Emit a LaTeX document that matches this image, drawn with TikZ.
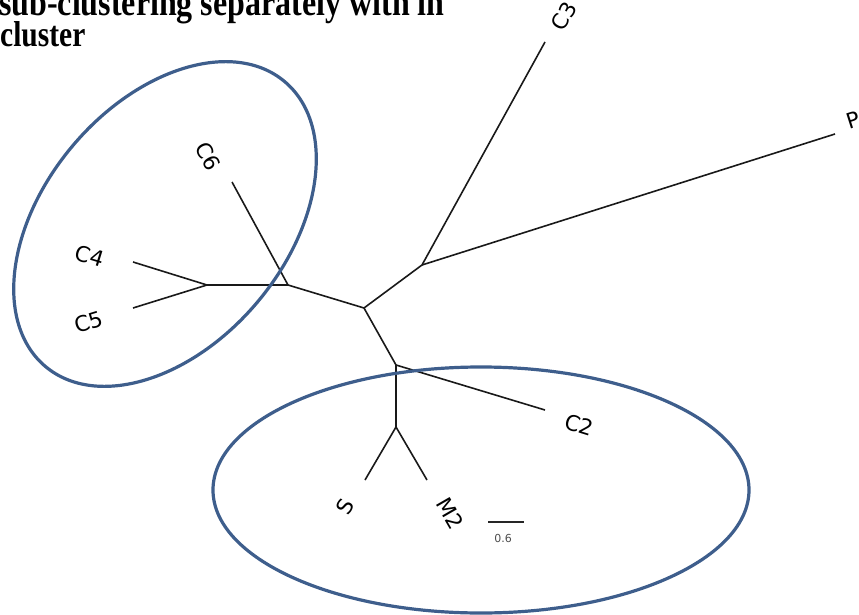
\documentclass[tikz,border=0pt]{standalone}
\usepackage{fontspec}
\setmainfont{Liberation Serif}
\newfontfamily\lblfont{DejaVu Sans}
\definecolor{clusterblue}{RGB}{62,94,140}
\begin{document}
\begin{tikzpicture}[x=1pt,y=-1pt,
  branch/.style={line width=1.6pt, draw=black!90},
  cluster/.style={line width=3.2pt, draw=clusterblue},
  leaf/.style={font=\lblfont\fontsize{21.5}{24}\selectfont, inner sep=0pt},
  titletext/.style={font=\bfseries, inner sep=0pt, anchor=base west}]
\useasboundingbox (0,0) rectangle (859,615);
% tree coordinates
\coordinate (A) at (364,308);
\coordinate (B) at (422,265);
\coordinate (C3t) at (545,42);
\coordinate (Pt) at (835,134);
\coordinate (D) at (288,285);
\coordinate (C6t) at (232,182);
\coordinate (E) at (207,285);
\coordinate (C4t) at (133,262);
\coordinate (C5t) at (133,308);
\coordinate (F) at (396,365);
\coordinate (C2t) at (545,410);
\coordinate (G) at (396,427);
\coordinate (St) at (365,480);
\coordinate (M2t) at (427,480);
\draw[branch] (A) -- (B);
\draw[branch] (B) -- (C3t);
\draw[branch] (B) -- (Pt);
\draw[branch] (A) -- (D);
\draw[branch] (D) -- (C6t);
\draw[branch] (D) -- (E);
\draw[branch] (E) -- (C4t);
\draw[branch] (E) -- (C5t);
\draw[branch] (A) -- (F);
\draw[branch] (F) -- (C2t);
\draw[branch] (F) -- (G);
\draw[branch] (G) -- (St);
\draw[branch] (G) -- (M2t);
% labels
\node[leaf, rotate=61] (C3) at (564,16) {C3};
\node[leaf, rotate=17.7, anchor=west] (P) at (847,122) {P};
\node[leaf, rotate=-62] (C6) at (208,156) {C6};
\node[leaf, rotate=-17] (C4) at (90,256) {C4};
\node[leaf, rotate=17] (C5) at (89,322) {C5};
\node[leaf, rotate=-17] (C2) at (579,425) {C2};
\node[leaf, rotate=60] (S) at (345,507) {S};
\node[leaf, rotate=-60] (M2) at (450,513) {M2};
% scale bar
\coordinate (sb1) at (488,522);
\coordinate (sb2) at (524,522);
\draw[line width=1.4pt, draw=black!85] (sb1) -- (sb2);
\node[font=\lblfont\fontsize{11}{12}\selectfont, text=black!70, inner sep=0pt] (scale) at (503,538) {0.6};
% cluster ellipses
\draw[cluster, rotate around={50:(165,224)}] (165,224) ellipse [x radius=186, y radius=121];
\draw[cluster] (481,490) ellipse [x radius=268, y radius=123];
% title
\node[titletext] (t1) at (-1,16) {\scalebox{1}[1.2]{\fontsize{32}{36}\selectfont sub-clustering separately with in}};
\node[titletext] (t2) at (0,47) {\scalebox{1}[1.22]{\fontsize{29.5}{34}\selectfont cluster}};
\end{tikzpicture}
\end{document}
